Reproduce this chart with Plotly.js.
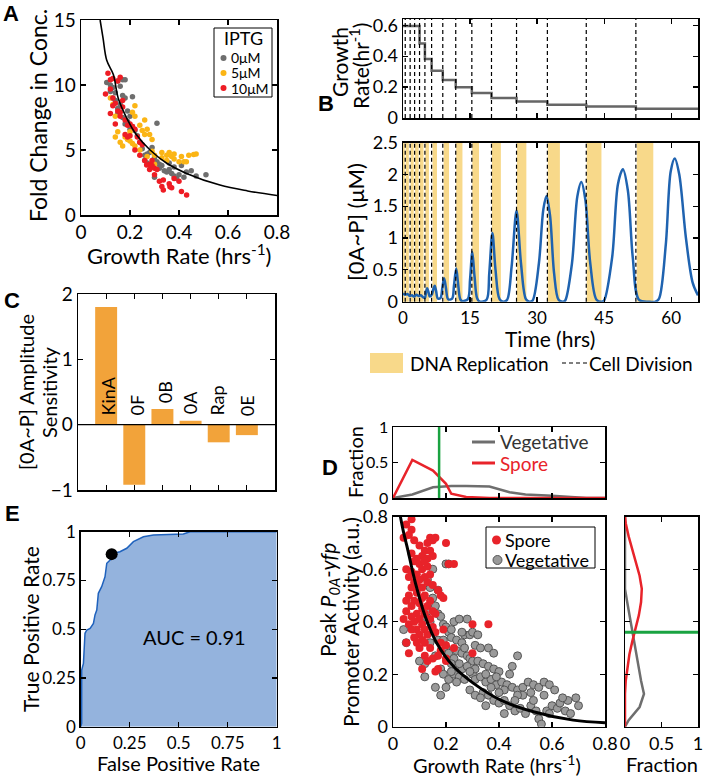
<!DOCTYPE html>
<html><head><meta charset="utf-8">
<script src="https://cdn.plot.ly/plotly-3.0.1.min.js"></script>
<style>html,body{margin:0;padding:0;background:#fff}#plot{width:709px;height:778px}</style>
</head><body><div id="plot"></div>
<script>
// ---------- Panel A data ----------
const aGrayX=[0.105,0.12,0.13,0.14,0.15,0.16,0.17,0.18,0.14,0.15,0.16,0.17,0.18,0.19,0.21,0.15,0.17,0.18,0.19,0.2,0.21,0.22,0.2,0.23,0.24,0.25,0.26,0.27,0.26,0.27,0.29,0.3,0.31,0.32,0.33,0.34,0.35,0.36,0.37,0.38,0.39,0.4,0.42,0.43,0.45,0.47,0.51,0.3,0.32,0.28,0.36,0.38,0.41,0.31,0.12,0.13];
const aGrayY=[10.2,10.0,9.8,9.4,10.3,9.9,10.4,10.4,8.8,8.2,8.5,9.2,9.0,8.0,9.1,7.8,7.5,7.0,7.2,6.6,6.8,6.5,7.6,6.1,5.6,5.1,4.6,4.7,4.2,4.0,5.2,4.4,4.1,3.9,3.8,3.4,3.3,3.5,3.2,3.0,2.8,3.1,2.9,3.3,3.4,3.0,3.1,2.9,3.6,4.8,4.0,3.7,3.8,7.05,9.5,9.0];
const aYelX=[0.12,0.13,0.14,0.15,0.16,0.17,0.18,0.19,0.2,0.21,0.22,0.2,0.22,0.21,0.22,0.24,0.26,0.27,0.28,0.25,0.27,0.29,0.3,0.33,0.35,0.36,0.37,0.38,0.38,0.4,0.41,0.42,0.43,0.44,0.46,0.47,0.3,0.33,0.24,0.29,0.35,0.14,0.26];
const aYelY=[9.0,8.5,7.6,6.4,5.6,5.3,6.0,5.8,5.7,5.5,5.3,6.4,8.4,7.9,7.6,6.9,7.3,6.6,6.2,6.5,4.5,4.9,4.6,4.8,4.6,4.8,4.5,4.3,4.7,4.1,4.5,4.1,4.1,4.6,4.65,4.7,3.9,4.4,5.0,5.8,4.2,6.0,6.2];
const aRedX=[0.11,0.12,0.13,0.15,0.16,0.1,0.12,0.13,0.14,0.15,0.16,0.17,0.12,0.14,0.16,0.18,0.19,0.2,0.21,0.22,0.18,0.19,0.2,0.23,0.24,0.25,0.22,0.26,0.28,0.29,0.3,0.31,0.28,0.3,0.32,0.336,0.33,0.363,0.36,0.37,0.38,0.4,0.41,0.431,0.29,0.24,0.13,0.17,0.268,0.336];
const aRedY=[10.9,10.4,10.5,10.3,10.6,9.3,9.7,9.0,8.6,8.0,7.9,8.3,7.8,7.0,7.6,7.3,6.9,7.0,6.8,6.6,6.2,6.0,6.1,6.0,5.6,5.4,5.0,4.2,3.9,3.8,3.6,3.5,3.5,3.1,2.6,1.92,2.2,2.18,2.4,2.1,2.8,2.6,1.8,1.54,4.2,4.6,8.4,8.8,3.85,2.69];
const aFitX=[0.078,0.09,0.105,0.132,0.152,0.187,0.227,0.282,0.35,0.431,0.567,0.68,0.8];
const aFitY=[15,13.6,11.9,10.8,8.98,7.44,6.15,5.0,3.98,3.2,2.3,1.85,1.5];

// ---------- Panel B data ----------
const divTimes=[0.5,1.6,2.6,3.7,4.9,6.4,8.9,11.8,15.4,19.8,25.4,32.3,41.0,52.1];
const repStart=[0,0.6,1.7,2.7,3.8,5.0,6.6,9.1,11.9,15.5,19.9,25.5,32.4,41.1,52.3];
const repEnd=[0.4,1.3,2.4,3.5,4.6,5.8,7.6,10.3,13.3,17.0,21.9,27.6,35.1,44.4,56.0];
const grX=[0,3.7,4.9,6.4,8.9,11.8,15.4,19.8,25.4,32.3,41.0,52.1,66];
const grY=[0.594,0.482,0.381,0.306,0.246,0.199,0.161,0.129,0.107,0.086,0.075,0.06,0.06];
const oaT=[0,0.5,1,1.5,2,2.5,3,3.5,4,4.5,4.9,5.15,5.4,5.7,6.0,6.5,6.8,7.1,7.4,7.8,8.4,8.8,9.2,9.6,10.1,11.0,11.4,11.9,12.3,12.8,13.2,14.5,15.0,15.5,16.0,16.6,17.2,18.7,19.3,20.0,20.7,21.6,22.5,23.3,24.3,25.4,26.4,27.5,28.3,29.0,30.4,31.4,32.1,32.9,33.8,34.8,35.8,36.3,37.8,39.0,39.9,40.8,41.9,43.3,44.5,45.0,46.8,48.1,49.2,50.3,51.4,52.8,55,56.5,57.3,58.8,59.9,60.8,61.8,63.3,64.8,66];
const oaV=[0.13,0.11,0.12,0.09,0.1,0.08,0.11,0.09,0.1,0.07,0.06,0.15,0.21,0.15,0.08,0.12,0.2,0.25,0.17,0.05,0.06,0.22,0.37,0.22,0.04,0.05,0.25,0.52,0.3,0.04,0.01,0.04,0.35,0.78,0.4,0.05,0.0,0.03,0.45,1.08,0.5,0.04,0.0,0.03,0.55,1.43,0.6,0.04,0.0,0.02,0.6,1.45,1.66,1.35,0.45,0.03,0.0,0.02,0.6,1.65,1.88,1.6,0.6,0.03,0.0,0.02,0.7,1.85,2.08,1.75,0.7,0.03,0.0,0.0,0.05,0.9,2.05,2.25,2.0,1.0,0.3,0.1];

// ---------- Panel C data ----------
const cCats=['KinA','0F','0B','0A','Rap','0E'];
const cVals=[1.8,-0.92,0.24,0.06,-0.27,-0.16];
const cLabelY=[0.12,0.13,0.32,0.14,0.12,0.12];

// ---------- Panel D data ----------
const dTopX=[0,0.073,0.151,0.2,0.22,0.276,0.364,0.44,0.5,0.6,0.666,0.73,0.8];
const dTopSpore=[0,0.535,0.386,0.2,0.06,0.014,0,0,0,0,0,0,0];
const dTopVeg=[0,0.05,0.15,0.17,0.17,0.17,0.163,0.08,0.05,0.033,0.014,0,0];
const dGreenX=0.174;
const dRightY=[0.8,0.775,0.725,0.675,0.625,0.575,0.525,0.475,0.425,0.375,0.325,0.275,0.225,0.175,0.125,0.075,0.025,0];
const dRightSpore=[0.0,0.01,0.05,0.1,0.15,0.2,0.23,0.22,0.19,0.14,0.1,0.06,0.03,0.01,0,0,0,0];
const dRightVeg=[0,0,0,0,0,0,0,0.03,0.06,0.09,0.12,0.15,0.18,0.22,0.26,0.2,0.05,0];
const dGreenY=0.36;
const dSporeX=[0.07,0.05,0.07,0.06,0.04,0.08,0.1,0.14,0.15,0.16,0.13,0.12,0.14,0.2,0.11,0.09,0.13,0.15,0.08,0.1,0.21,0.23,0.05,0.07,0.11,0.13,0.06,0.09,0.12,0.14,0.08,0.1,0.13,0.15,0.07,0.11,0.06,0.09,0.12,0.18,0.19,0.05,0.08,0.1,0.14,0.07,0.11,0.13,0.15,0.16,0.05,0.09,0.12,0.04,0.07,0.1,0.14,0.06,0.08,0.11,0.09,0.12,0.07,0.1,0.13,0.08,0.11,0.09,0.12,0.05,0.06,0.1,0.18,0.2,0.14,0.3,0.36,0.3,0.23,0.12,0.13,0.15,0.17,0.2,0.2,0.11,0.16,0.17,0.18,0.16,0.19,0.11,0.09,0.12,0.07,0.17,0.15];
const dSporeY=[0.79,0.77,0.75,0.73,0.72,0.71,0.69,0.72,0.71,0.72,0.7,0.67,0.67,0.7,0.65,0.64,0.64,0.65,0.63,0.62,0.62,0.62,0.6,0.59,0.6,0.61,0.57,0.58,0.57,0.58,0.55,0.56,0.55,0.54,0.53,0.53,0.5,0.51,0.5,0.5,0.49,0.48,0.48,0.47,0.48,0.46,0.45,0.46,0.44,0.43,0.44,0.43,0.43,0.41,0.42,0.41,0.41,0.39,0.4,0.39,0.37,0.37,0.37,0.35,0.35,0.34,0.33,0.32,0.32,0.32,0.28,0.3,0.32,0.31,0.3,0.39,0.39,0.28,0.3,0.27,0.25,0.26,0.27,0.26,0.25,0.22,0.21,0.22,0.29,0.36,0.37,0.49,0.54,0.63,0.66,0.52,0.38];
const dVegX=[0.04,0.05,0.13,0.14,0.17,0.2,0.21,0.15,0.16,0.17,0.18,0.13,0.12,0.14,0.19,0.2,0.21,0.22,0.23,0.25,0.28,0.22,0.24,0.26,0.27,0.29,0.3,0.32,0.31,0.33,0.24,0.26,0.28,0.29,0.3,0.32,0.34,0.36,0.38,0.4,0.2,0.21,0.23,0.22,0.18,0.19,0.21,0.23,0.25,0.27,0.26,0.28,0.3,0.31,0.33,0.35,0.37,0.39,0.41,0.43,0.45,0.47,0.49,0.51,0.53,0.55,0.57,0.59,0.57,0.49,0.47,0.45,0.36,0.38,0.34,0.36,0.38,0.4,0.42,0.44,0.46,0.48,0.5,0.52,0.54,0.55,0.56,0.58,0.6,0.62,0.63,0.65,0.66,0.67,0.69,0.7,0.59,0.47,0.42,0.4,0.16,0.18,0.24,0.29,0.31,0.33,0.12,0.12,0.1,0.14,0.17,0.19,0.26,0.15,0.31,0.35,0.39,0.44,0.52,0.61,0.64,0.35,0.37,0.42,0.46,0.53,0.2,0.16,0.25,0.27,0.22,0.29];
const dVegY=[0.37,0.32,0.56,0.53,0.52,0.62,0.62,0.49,0.46,0.43,0.42,0.44,0.42,0.4,0.39,0.38,0.36,0.37,0.4,0.41,0.41,0.34,0.33,0.32,0.35,0.35,0.36,0.35,0.31,0.3,0.29,0.28,0.27,0.26,0.25,0.25,0.24,0.23,0.22,0.21,0.3,0.28,0.26,0.24,0.22,0.2,0.18,0.2,0.19,0.18,0.22,0.23,0.2,0.18,0.19,0.17,0.18,0.16,0.17,0.16,0.15,0.14,0.15,0.17,0.16,0.15,0.17,0.16,0.12,0.12,0.27,0.23,0.3,0.28,0.13,0.12,0.1,0.09,0.1,0.08,0.06,0.07,0.05,0.08,0.06,0.03,0.01,0.06,0.08,0.07,0.09,0.06,0.1,0.05,0.11,0.08,0.05,0.12,0.14,0.13,0.15,0.12,0.17,0.14,0.12,0.11,0.24,0.19,0.25,0.32,0.33,0.33,0.36,0.6,0.22,0.2,0.19,0.2,0.13,0.14,0.11,0.08,0.15,0.05,0.1,0.1,0.15,0.27,0.24,0.3,0.21,0.21];
const dFitX=[0.028,0.04,0.053,0.085,0.122,0.166,0.229,0.304,0.405,0.53,0.68,0.8];
const dFitY=[0.8,0.74,0.686,0.546,0.419,0.317,0.229,0.165,0.102,0.057,0.025,0.015];

// ---------- Panel E data ----------
const rocX=[0,0.005,0.005,0.014,0.022,0.031,0.048,0.065,0.073,0.082,0.09,0.107,0.124,0.133,0.15,0.167,0.2,0.235,0.269,0.32,0.371,0.524,0.558,1];
const rocY=[0,0.017,0.29,0.325,0.479,0.496,0.504,0.53,0.573,0.598,0.684,0.718,0.769,0.838,0.855,0.889,0.897,0.915,0.949,0.974,0.983,0.988,1.0,1.0];
const rocPt=[0.158,0.885];
const aucText='AUC = 0.91';

// ---------- layout helpers ----------
const W=709,H=778;
const FONT='Lato, "Open Sans", sans-serif';
const px=(a,b)=>[a/W,b/W];
const py=(top,bot)=>[1-bot/H,1-top/H];
const XP=v=>v/W, YP=v=>1-v/H;
const TF={family:FONT,size:18,color:'black'};
function ax(o){return Object.assign({showline:true,linecolor:'black',linewidth:1.5,mirror:'ticks',ticks:'inside',ticklen:5,tickwidth:1.2,tickcolor:'black',showgrid:false,zeroline:false,tickfont:TF,fixedrange:true},o);}

const GRAYA='#6e6e6e',YELA='#fbb515',REDA='#ee1c24';
const REDD='#e8232a';
const traces=[];
// A
traces.push({x:aGrayX,y:aGrayY,xaxis:'x',yaxis:'y',mode:'markers',marker:{color:GRAYA,size:5.5},type:'scatter',showlegend:false});
traces.push({x:aYelX,y:aYelY,xaxis:'x',yaxis:'y',mode:'markers',marker:{color:YELA,size:5.5},type:'scatter',showlegend:false});
traces.push({x:aRedX,y:aRedY,xaxis:'x',yaxis:'y',mode:'markers',marker:{color:REDA,size:5.5},type:'scatter',showlegend:false});
traces.push({x:aFitX,y:aFitY,xaxis:'x',yaxis:'y',mode:'lines',line:{color:'black',width:1.6,shape:'spline'},type:'scatter',showlegend:false});
// B top
traces.push({x:grX,y:grY,xaxis:'x2',yaxis:'y2',mode:'lines',line:{color:'#666',width:2.5,shape:'hv'},type:'scatter',showlegend:false});
// B bottom
traces.push({x:oaT,y:oaV,xaxis:'x3',yaxis:'y3',mode:'lines',line:{color:'#1f63b0',width:2.5,shape:'spline',smoothing:0.9},type:'scatter',showlegend:false});
// C
traces.push({x:[1,2,3,4,5,6],y:cVals,xaxis:'x4',yaxis:'y4',type:'bar',width:0.78,marker:{color:'#f2a33a'},showlegend:false});
// D top
traces.push({x:dTopX,y:dTopVeg,xaxis:'x5',yaxis:'y5',mode:'lines',line:{color:'#6e6e6e',width:2.5},type:'scatter',showlegend:false});
traces.push({x:dTopX,y:dTopSpore,xaxis:'x5',yaxis:'y5',mode:'lines',line:{color:REDD,width:2.5},type:'scatter',showlegend:false});
traces.push({x:[dGreenX,dGreenX],y:[0,1],xaxis:'x5',yaxis:'y5',mode:'lines',line:{color:'#1aa341',width:2.5},type:'scatter',showlegend:false});
// D main
traces.push({x:dVegX,y:dVegY,xaxis:'x6',yaxis:'y6',mode:'markers',marker:{color:'#9a9a9a',size:8,line:{color:'#555',width:1}},type:'scatter',showlegend:false});
traces.push({x:dSporeX,y:dSporeY,xaxis:'x6',yaxis:'y6',mode:'markers',marker:{color:REDD,size:8},type:'scatter',showlegend:false});
traces.push({x:dFitX,y:dFitY,xaxis:'x6',yaxis:'y6',mode:'lines',line:{color:'black',width:3,shape:'spline'},type:'scatter',showlegend:false});
// D right
traces.push({x:dRightVeg,y:dRightY,xaxis:'x7',yaxis:'y7',mode:'lines',line:{color:'#6e6e6e',width:2.5},type:'scatter',showlegend:false});
traces.push({x:dRightSpore,y:dRightY,xaxis:'x7',yaxis:'y7',mode:'lines',line:{color:REDD,width:2.5},type:'scatter',showlegend:false});
traces.push({x:[0,1],y:[dGreenY,dGreenY],xaxis:'x7',yaxis:'y7',mode:'lines',line:{color:'#1aa341',width:3},type:'scatter',showlegend:false});
// E
traces.push({x:rocX,y:rocY,xaxis:'x8',yaxis:'y8',mode:'lines',fill:'tozeroy',fillcolor:'#94b3dd',line:{color:'#1f62bd',width:1.5},type:'scatter',showlegend:false});
traces.push({x:[rocPt[0]],y:[rocPt[1]],xaxis:'x8',yaxis:'y8',mode:'markers',marker:{color:'black',size:12},type:'scatter',showlegend:false});

const shapes=[];
for(let i=0;i<repStart.length;i++){
  shapes.push({type:'rect',xref:'x3',yref:'y3 domain',x0:repStart[i],x1:repEnd[i],y0:0,y1:1,fillcolor:'#f8d98a',line:{width:0},layer:'below'});
}
divTimes.forEach(t=>{
  ['2','3'].forEach(k=>shapes.push({type:'line',xref:'x'+k,yref:'y'+k+' domain',x0:t,x1:t,y0:0,y1:1,line:{color:'black',width:1.2,dash:'4px,3px'}}));
});
shapes.push({type:'line',xref:'x4 domain',yref:'y4',x0:0,x1:1,y0:0,y1:0,line:{color:'black',width:1.2}});
// A legend
shapes.push({type:'rect',xref:'paper',yref:'paper',x0:XP(214),x1:XP(272),y0:YP(97),y1:YP(28),line:{color:'black',width:1},fillcolor:'white'});
[[58,GRAYA],[73,YELA],[88,REDA]].forEach(([y,c])=>shapes.push({type:'circle',xref:'paper',yref:'paper',x0:XP(220.5),x1:XP(226.5),y0:YP(y+3),y1:YP(y-3),fillcolor:c,line:{width:0}}));
// B legend
shapes.push({type:'rect',xref:'paper',yref:'paper',x0:XP(370),x1:XP(403),y0:YP(373),y1:YP(353),fillcolor:'#f8d98a',line:{width:0}});
shapes.push({type:'line',xref:'paper',yref:'paper',x0:XP(562),x1:XP(587),y0:YP(363),y1:YP(363),line:{color:'black',width:1.2,dash:'4px,3px'}});
// D top legend
shapes.push({type:'line',xref:'paper',yref:'paper',x0:XP(472),x1:XP(495),y0:YP(442),y1:YP(442),line:{color:'#6e6e6e',width:3}});
shapes.push({type:'line',xref:'paper',yref:'paper',x0:XP(472),x1:XP(495),y0:YP(463),y1:YP(463),line:{color:REDD,width:3}});
// D main legend
shapes.push({type:'rect',xref:'paper',yref:'paper',x0:XP(486),x1:XP(595),y0:YP(568),y1:YP(527),line:{color:'black',width:1},fillcolor:'white'});
shapes.push({type:'circle',xref:'paper',yref:'paper',x0:XP(492),x1:XP(501),y0:YP(544.5),y1:YP(535.5),fillcolor:REDD,line:{width:0}});
shapes.push({type:'circle',xref:'paper',yref:'paper',x0:XP(493),x1:XP(502),y0:YP(564.5),y1:YP(555.5),fillcolor:'#9a9a9a',line:{color:'#555',width:1}});

const ann=[];
function T(text,x,y,size,o){ann.push(Object.assign({text:text,xref:'paper',yref:'paper',x:XP(x),y:YP(y),showarrow:false,xanchor:'center',yanchor:'middle',borderpad:0,font:{family:FONT,size:size,color:'black'}},o||{}));}
const LF={family:'Liberation Sans, Arial, sans-serif',size:22,color:'black'};
T('<b>A</b>',11,14,22,{font:LF});
T('<b>B</b>',326,104,22,{font:LF});
T('<b>C</b>',12,300,22,{font:LF});
T('<b>D</b>',330,468,22,{font:LF});
T('<b>E</b>',12,513,22,{font:LF});
// A
T('Fold Change in Conc.',38,116,23,{textangle:-90});
T('Growth Rate (hrs<sup>-1</sup>)',179,254,22);
T('IPTG',243,38,18);
T('0μM',229.5,58,14,{xanchor:'left'});
T('5μM',229.5,73,14,{xanchor:'left'});
T('10μM',229.5,88,14,{xanchor:'left'});
// B
T('Growth',339,62,21,{textangle:-90});
T('Rate(hr<sup>-1</sup>)',359,66,21,{textangle:-90});
T('[0A~P] (μM)',355,222,22,{textangle:-90});
T('Time (hrs)',550,339,21);
T('DNA Replication',409,363,19,{xanchor:'left'});
T('Cell Division',588,363,19,{xanchor:'left'});
// C
T('[0A~P] Amplitude',26,392,20,{textangle:-90});
T('Sensitivity',49,392,20,{textangle:-90});
const cLabX=[1.07,2.09,3.07,3.99,4.93,6.0];
cCats.forEach((c,i)=>{
  ann.push({text:c,xref:'x4',yref:'y4',x:cLabX[i],y:cLabelY[i],textangle:-90,showarrow:false,xanchor:'center',yanchor:'bottom',borderpad:0,font:{family:FONT,size:18,color:'black'}});
});
// D
T('Fraction',355,462,20,{textangle:-90});
T('Vegetative',499,442,18,{xanchor:'left',font:{family:FONT,size:19,color:'#333'}});
T('Spore',499,463,18,{xanchor:'left',font:{family:FONT,size:19,color:REDD}});
T('Peak <i>P</i><sub><i>0A</i></sub><i>-yfp</i>',329,600,21,{textangle:-90});
T('Promoter Activity (a.u.)',350,622,21,{textangle:-90});
T('Spore',504,540,18,{xanchor:'left'});
T('Vegetative',504,560,18,{xanchor:'left'});
T('Growth Rate (hrs<sup>-1</sup>)',497,764,20);
T('Fraction',662,764,20);
// E
T('True Positive Rate',30,629,21,{textangle:-90});
T('False Positive Rate',178,763,20);
T(aucText,194,637,20);

const layout={
  width:W,height:H,margin:{l:0,r:0,t:0,b:0},paper_bgcolor:'white',plot_bgcolor:'rgba(0,0,0,0)',showlegend:false,
  font:{family:FONT,color:'black'},
  xaxis:ax({domain:px(81,277),range:[0,0.8],tickvals:[0,0.2,0.4,0.6,0.8],ticktext:['0','0.2','0.4','0.6','0.8'],anchor:'y',tickfont:{family:FONT,size:19,color:'black'}}),
  yaxis:ax({domain:py(20,215),range:[0,15],tickvals:[0,5,10,15],anchor:'x',tickfont:{family:FONT,size:19,color:'black'}}),
  xaxis2:ax({domain:px(403,698),range:[0,66],tickvals:[0,15,30,45,60],showticklabels:false,anchor:'y2'}),
  yaxis2:ax({domain:py(19,118),range:[0,0.64],tickvals:[0,0.2,0.4,0.6],anchor:'x2'}),
  xaxis3:ax({domain:px(403,698),range:[0,66],tickvals:[0,15,30,45,60],anchor:'y3',tickfont:{family:FONT,size:17,color:'black'}}),
  yaxis3:ax({domain:py(142.5,301.7),range:[0,2.5],tickvals:[0,0.5,1,1.5,2,2.5],ticktext:['0','0.5','1','1.5','2','2.5'],anchor:'x3'}),
  xaxis4:ax({domain:px(78,275),range:[0,7],tickvals:[1,2,3,4,5,6],showticklabels:false,anchor:'y4'}),
  yaxis4:ax({domain:py(294,490),range:[-1,2],tickvals:[-1,0,1,2],anchor:'x4',tickfont:{family:FONT,size:19,color:'black'}}),
  xaxis5:ax({domain:px(393,605),range:[0,0.8],tickvals:[0,0.2,0.4,0.6,0.8],showticklabels:false,anchor:'y5'}),
  yaxis5:ax({domain:py(427,498),range:[0,1],tickvals:[0,0.5,1],anchor:'x5',tickfont:{family:FONT,size:16,color:'black'}}),
  xaxis6:ax({domain:px(393,605),range:[0,0.8],tickvals:[0,0.2,0.4,0.6,0.8],ticktext:['0','0.2','0.4','0.6','0.8'],anchor:'y6'}),
  yaxis6:ax({domain:py(516.7,726.7),range:[0,0.8],tickvals:[0,0.2,0.4,0.6,0.8],ticktext:['0','0.2','0.4','0.6','0.8'],anchor:'x6'}),
  xaxis7:ax({domain:px(625,698),range:[0,1],tickvals:[0,0.5,1],anchor:'y7'}),
  yaxis7:ax({domain:py(516.7,726.7),range:[0,0.8],tickvals:[0,0.2,0.4,0.6,0.8],showticklabels:false,anchor:'x7'}),
  xaxis8:ax({domain:px(80.7,276.7),range:[0,1],tickvals:[0,0.25,0.5,0.75,1],anchor:'y8',tickfont:{family:FONT,size:17,color:'black'}}),
  yaxis8:ax({domain:py(531.7,726.7),range:[0,1],tickvals:[0,0.25,0.5,0.75,1],anchor:'x8',tickfont:{family:FONT,size:17,color:'black'}}),
  shapes:shapes,annotations:ann,bargap:0.2
};
Plotly.newPlot('plot',traces,layout,{staticPlot:true,displayModeBar:false});
</script></body></html>
